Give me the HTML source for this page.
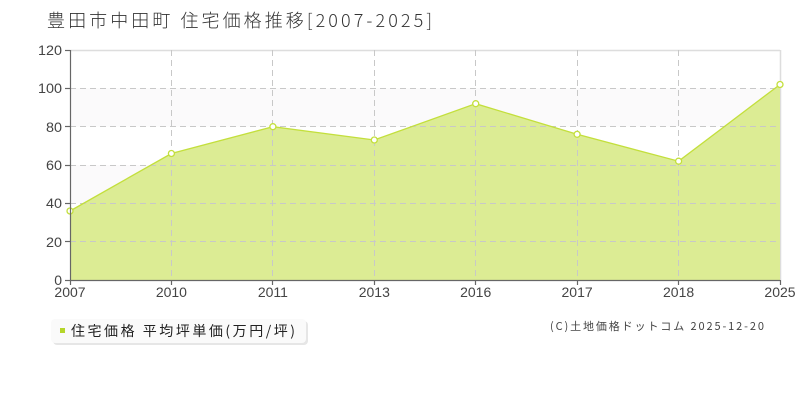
<!DOCTYPE html>
<html><head><meta charset="utf-8"><style>
html,body{margin:0;padding:0;background:#fff;}
body{width:800px;height:400px;position:relative;overflow:hidden;font-family:"Liberation Sans","Noto Sans CJK JP",sans-serif;}
svg{position:absolute;left:0;top:0;}
</style></head><body>
<svg width="800" height="400" viewBox="0 0 800 400" xmlns="http://www.w3.org/2000/svg">
<text x="47" y="27" font-size="18" fill="#333" font-family="'Noto Sans CJK JP',sans-serif" textLength="385" lengthAdjust="spacing" font-weight="300">豊田市中田町 住宅価格推移[2007-2025]</text>
<!-- bands -->
<rect x="70" y="88.3" width="710" height="38.4" fill="#fbfafb"/>
<rect x="70" y="165" width="710" height="38.3" fill="#fbfafb"/>
<rect x="70" y="241.7" width="710" height="38.3" fill="#fbfafb"/>
<!-- top line -->
<line x1="70" y1="50.5" x2="780" y2="50.5" stroke="#ddd" stroke-width="1.5"/>
<line x1="780.5" y1="50" x2="780.5" y2="280" stroke="#ddd" stroke-width="1.5"/>
<!-- area -->
<polygon points="70,211 171.4,153.5 272.9,126.7 374.3,140 475.7,103.7 577.1,134.3 678.6,161.2 780,84.5 780,280 70,280" fill="#dcec94"/>
<!-- grid -->
<g stroke="#c8c8c8" stroke-width="1" stroke-dasharray="6,4" fill="none">
<line x1="70" y1="88.5" x2="780" y2="88.5"/>
<line x1="70" y1="126.5" x2="780" y2="126.5"/>
<line x1="70" y1="165.5" x2="780" y2="165.5"/>
<line x1="70" y1="203.5" x2="780" y2="203.5"/>
<line x1="70" y1="241.5" x2="780" y2="241.5"/>
<line x1="171.5" y1="50" x2="171.5" y2="280"/>
<line x1="272.5" y1="50" x2="272.5" y2="280"/>
<line x1="374.5" y1="50" x2="374.5" y2="280"/>
<line x1="475.5" y1="50" x2="475.5" y2="280"/>
<line x1="577.5" y1="50" x2="577.5" y2="280"/>
<line x1="678.5" y1="50" x2="678.5" y2="280"/>
</g>
<polyline points="70,211 171.4,153.5 272.9,126.7 374.3,140 475.7,103.7 577.1,134.3 678.6,161.2 780,84.5" fill="none" stroke="#c3df3c" stroke-width="1.3"/>
<g fill="#fff" stroke="#c3df3c" stroke-width="1.3">
<circle cx="70" cy="211" r="3"/><circle cx="171.4" cy="153.5" r="3"/><circle cx="272.9" cy="126.7" r="3"/><circle cx="374.3" cy="140" r="3"/><circle cx="475.7" cy="103.7" r="3"/><circle cx="577.1" cy="134.3" r="3"/><circle cx="678.6" cy="161.2" r="3"/><circle cx="780" cy="84.5" r="3"/>
</g>
<!-- axes -->
<g stroke="#666" stroke-width="1.2">
<line x1="70.5" y1="50" x2="70.5" y2="280"/>
<line x1="70" y1="280.5" x2="780" y2="280.5"/>
<line x1="65" y1="50.5" x2="70" y2="50.5"/>
<line x1="65" y1="88.5" x2="70" y2="88.5"/>
<line x1="65" y1="126.5" x2="70" y2="126.5"/>
<line x1="65" y1="165.5" x2="70" y2="165.5"/>
<line x1="65" y1="203.5" x2="70" y2="203.5"/>
<line x1="65" y1="241.5" x2="70" y2="241.5"/>
<line x1="65" y1="280.5" x2="70" y2="280.5"/>
<line x1="70.5" y1="280" x2="70.5" y2="285"/>
<line x1="171.5" y1="280" x2="171.5" y2="285"/>
<line x1="272.5" y1="280" x2="272.5" y2="285"/>
<line x1="374.5" y1="280" x2="374.5" y2="285"/>
<line x1="475.5" y1="280" x2="475.5" y2="285"/>
<line x1="577.5" y1="280" x2="577.5" y2="285"/>
<line x1="678.5" y1="280" x2="678.5" y2="285"/>
<line x1="780.5" y1="280" x2="780.5" y2="285"/>
</g>
<g font-size="14" fill="#444" text-anchor="end" font-family="'Liberation Sans',sans-serif">
<text x="62" y="55" textLength="24" lengthAdjust="spacingAndGlyphs">120</text>
<text x="62" y="93" textLength="24" lengthAdjust="spacingAndGlyphs">100</text>
<text x="62" y="132" textLength="16" lengthAdjust="spacingAndGlyphs">80</text>
<text x="62" y="170" textLength="16" lengthAdjust="spacingAndGlyphs">60</text>
<text x="62" y="208" textLength="16" lengthAdjust="spacingAndGlyphs">40</text>
<text x="62" y="247" textLength="16" lengthAdjust="spacingAndGlyphs">20</text>
<text x="62" y="285">0</text>
</g>
<g font-size="14" fill="#444" text-anchor="middle" font-family="'Liberation Sans',sans-serif">
<text x="70" y="297">2007</text>
<text x="171.4" y="297">2010</text>
<text x="272.9" y="297">2011</text>
<text x="374.3" y="297">2013</text>
<text x="475.7" y="297">2016</text>
<text x="577.1" y="297">2017</text>
<text x="678.6" y="297">2018</text>
<text x="780" y="297">2025</text>
</g>
<!-- legend -->
<rect x="53" y="321" width="255" height="24" rx="4" fill="#e6e6e6"/>
<rect x="51" y="319" width="255" height="24" rx="4" fill="#fafafa"/>
<rect x="60" y="328" width="5" height="5" fill="#b5d62a"/>
<text x="71" y="336" font-size="14" fill="#222" font-family="'Noto Sans CJK JP',sans-serif" textLength="224" lengthAdjust="spacing">住宅価格 平均坪単価(万円/坪)</text>
<text x="550" y="330" font-size="11" fill="#444" font-family="'Noto Sans CJK JP',sans-serif" textLength="214" lengthAdjust="spacing">(C)土地価格ドットコム 2025-12-20</text>
</svg>
</body></html>
